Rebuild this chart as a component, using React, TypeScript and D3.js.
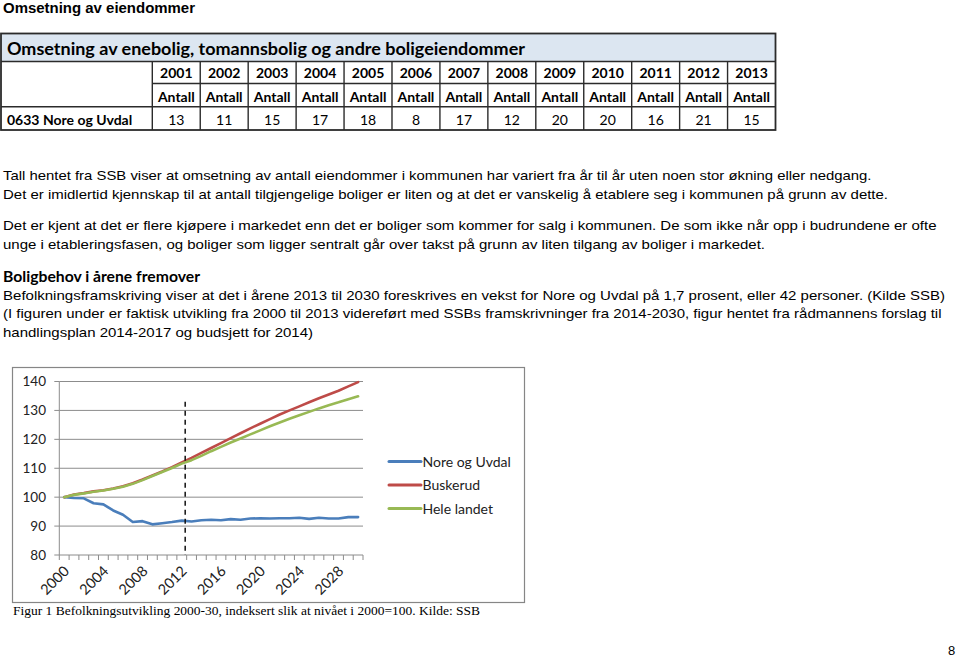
import React from "react";
import * as d3 from "d3";

// ---------- Data ----------
const tableYears = ["2001","2002","2003","2004","2005","2006","2007","2008","2009","2010","2011","2012","2013"];
const tableRegion = "0633 Nore og Uvdal";
const tableValues = [13, 11, 15, 17, 18, 8, 17, 12, 20, 20, 16, 21, 15];

const years = d3.range(2000, 2031);
const noreOgUvdal = [100, 99.7, 99.6, 97.9, 97.5, 95.4, 93.9, 91.4, 91.7, 90.6, 91.0, 91.4, 91.9, 91.6, 92.0, 92.2, 92.0, 92.4, 92.2, 92.6, 92.7, 92.6, 92.7, 92.7, 92.9, 92.5, 92.9, 92.6, 92.6, 93.1, 93.1];
const buskerud = [100, 100.9, 101.4, 102.0, 102.4, 103.0, 103.8, 104.8, 106.1, 107.5, 108.9, 110.4, 112.0, 113.6, 115.3, 117.0, 118.7, 120.4, 122.1, 123.8, 125.4, 127.0, 128.6, 130.0, 131.4, 132.8, 134.2, 135.5, 136.8, 138.3, 139.8];
const heleLandet = [100, 100.8, 101.3, 101.9, 102.3, 102.9, 103.6, 104.6, 105.9, 107.3, 108.7, 110.1, 111.6, 112.8, 114.3, 115.9, 117.4, 118.9, 120.3, 121.7, 123.1, 124.5, 125.8, 127.1, 128.3, 129.5, 130.7, 131.8, 132.8, 133.9, 134.9];
const seriesNames = ["Nore og Uvdal", "Buskerud", "Hele landet"];
const yTicks = [80, 90, 100, 110, 120, 130, 140];
const xLabelYears = [2000, 2004, 2008, 2012, 2016, 2020, 2024, 2028];
const markerYear = 2012.35;
const markerTop = 133;

const paragraphs = [
  "Tall hentet fra SSB viser at omsetning av antall eiendommer i kommunen har variert fra år til år uten noen stor økning eller nedgang.",
  "Det er imidlertid kjennskap til at antall tilgjengelige boliger er liten og at det er vanskelig å etablere seg i kommunen på grunn av dette.",
  "Det er kjent at det er flere kjøpere i markedet enn det er boliger som kommer for salg i kommunen. De som ikke når opp i budrundene er ofte",
  "unge i etableringsfasen, og boliger som ligger sentralt går over takst på grunn av liten tilgang av boliger i markedet.",
  "Befolkningsframskriving viser at det i årene 2013 til 2030 foreskrives en vekst for Nore og Uvdal på 1,7 prosent, eller 42 personer. (Kilde SSB)",
  "(I figuren under er faktisk utvikling fra 2000 til 2013 videreført med SSBs framskrivninger fra 2014-2030, figur hentet fra rådmannens forslag til",
  "handlingsplan 2014-2017 og budsjett for 2014)",
];
const paragraphY = [180, 198.5, 229.5, 248.5, 300, 318.3, 336.7];
const paragraphWidth = [868.5, 885, 933.5, 762, 942, 938.5, 310];

const colors = ["#4a7ebb", "#be4b48", "#98b954"];
const CAL = "Lato, 'Open Sans', sans-serif";
const ARIAL = "'Liberation Sans', Arial, sans-serif";

export default function App() {
  // table geometry
  const tLeft = 1, tRight = 775.5, firstColRight = 152.3;
  const colX = d3.scaleLinear().domain([0, tableYears.length]).range([firstColRight, tRight]);
  const rows = [33.5, 61.5, 83.5, 106.7, 130];

  // chart geometry
  const x = d3.scaleLinear().domain([1999.5, 2030.5]).range([59.3, 363]);
  const y = d3.scaleLinear().domain([80, 140]).range([555, 381.5]);
  const seriesData = [noreOgUvdal, buskerud, heleLandet];
  const line = d3.line<number>().x((_, i) => x(years[i])).y((d) => y(d));
  const tickBounds = d3.range(1999.5, 2031.5, 1);

  return (
    <svg width={960} height={658} style={{ position: "absolute", left: 0, top: 0, background: "#fff" }}>
      <rect width={960} height={658} fill="#fff" />
      <text x={3} y={13} fontFamily={ARIAL} fontWeight="bold" fontSize={14} fill="#000" textLength={192} lengthAdjust="spacingAndGlyphs">Omsetning av eiendommer</text>

      {/* table */}
      <rect x={tLeft} y={rows[0]} width={tRight - tLeft} height={rows[1] - rows[0]} fill="#dce6f1" />
      <text x={7} y={55} fontFamily={CAL} fontWeight="bold" fontSize={16.5} fill="#000" textLength={518} lengthAdjust="spacingAndGlyphs">Omsetning av enebolig, tomannsbolig og andre boligeiendommer</text>
      <g stroke="#2b2b2b" strokeWidth={1.4} fill="none">
        <rect x={tLeft} y={rows[0]} width={tRight - tLeft} height={rows[4] - rows[0]} strokeWidth={1.8} />
        <line x1={tLeft} x2={tRight} y1={rows[1]} y2={rows[1]} />
        <line x1={firstColRight} x2={tRight} y1={rows[2]} y2={rows[2]} />
        <line x1={tLeft} x2={tRight} y1={rows[3]} y2={rows[3]} />
        {d3.range(0, tableYears.length).map((i) => (
          <line key={i} x1={colX(i)} x2={colX(i)} y1={rows[1]} y2={rows[4]} />
        ))}
      </g>
      {tableYears.map((yr, i) => {
        const cx = (colX(i) + colX(i + 1)) / 2;
        return (
          <g key={yr} fontFamily={CAL} fontSize={14} textAnchor="middle" fill="#000">
            <text x={cx} y={78} fontWeight="bold">{yr}</text>
            <text x={cx} y={101.5} fontWeight="bold">Antall</text>
            <text x={cx} y={124.5}>{tableValues[i]}</text>
          </g>
        );
      })}
      <text x={7} y={124.5} fontFamily={CAL} fontWeight="bold" fontSize={14} fill="#000">{tableRegion}</text>

      {/* paragraphs */}
      {paragraphs.map((p, i) => (
        <text key={i} x={3} y={paragraphY[i]} fontFamily={ARIAL} fontSize={13} fill="#000" textLength={paragraphWidth[i]} lengthAdjust="spacingAndGlyphs">{p}</text>
      ))}
      <text x={3} y={282} fontFamily={CAL} fontWeight="bold" fontSize={14.5} fill="#000" textLength={197} lengthAdjust="spacingAndGlyphs">Boligbehov i årene fremover</text>

      {/* chart frame */}
      <rect x={12.5} y={367.5} width={512} height={235} fill="#fff" stroke="#868686" strokeWidth={1.2} />

      {/* grid */}
      {yTicks.map((t) => (
        <g key={t}>
          {t > 80 && <line x1={x(1999.5)} x2={x(2030.5)} y1={y(t)} y2={y(t)} stroke="#8c8c8c" strokeWidth={1} />}
          <line x1={x(1999.5) - 5} x2={x(1999.5)} y1={y(t)} y2={y(t)} stroke="#8c8c8c" strokeWidth={1} />
          <text x={46} y={y(t) + 4.5} textAnchor="end" fontFamily={CAL} fontSize={13.5} fill="#222">{t}</text>
        </g>
      ))}
      <line x1={x(1999.5)} x2={x(1999.5)} y1={y(140)} y2={y(80)} stroke="#8c8c8c" strokeWidth={1} />
      <line x1={x(1999.5)} x2={x(2030.5)} y1={y(80)} y2={y(80)} stroke="#8c8c8c" strokeWidth={1} />
      {tickBounds.map((b) => (
        <line key={b} x1={x(b)} x2={x(b)} y1={y(80)} y2={y(80) + 5} stroke="#8c8c8c" strokeWidth={1} />
      ))}
      {xLabelYears.map((yr) => (
        <text key={yr} transform={`translate(${x(yr) + 6},${y(80) + 17}) rotate(-45)`} textAnchor="end" fontFamily={CAL} fontSize={14.5} fill="#222">{yr}</text>
      ))}

      {/* series */}
      {seriesData.map((s, i) => (
        <path key={i} d={line(s) ?? ""} fill="none" stroke={colors[i]} strokeWidth={2.6} strokeLinejoin="round" strokeLinecap="round" />
      ))}

      {/* marker */}
      <line x1={x(markerYear)} x2={x(markerYear)} y1={y(markerTop)} y2={y(80)} stroke="#111" strokeWidth={1.5} strokeDasharray="5,4" />

      {/* legend */}
      {seriesNames.map((n, i) => {
        const ly = 461.5 + i * 23.5;
        return (
          <g key={n}>
            <line x1={389} x2={421} y1={ly} y2={ly} stroke={colors[i]} strokeWidth={3} strokeLinecap="round" />
            <text x={422.5} y={ly + 5} fontFamily={CAL} fontSize={14} fill="#222">{n}</text>
          </g>
        );
      })}

      <text x={13} y={615} fontFamily="'Liberation Serif', 'DejaVu Serif', serif" fontSize={13.3} fill="#000" textLength={467} lengthAdjust="spacingAndGlyphs">Figur 1 Befolkningsutvikling 2000-30, indeksert slik at nivået i 2000=100. Kilde: SSB</text>

      <text x={951.5} y={655} textAnchor="middle" fontFamily={ARIAL} fontSize={13} fill="#000">8</text>
    </svg>
  );
}
